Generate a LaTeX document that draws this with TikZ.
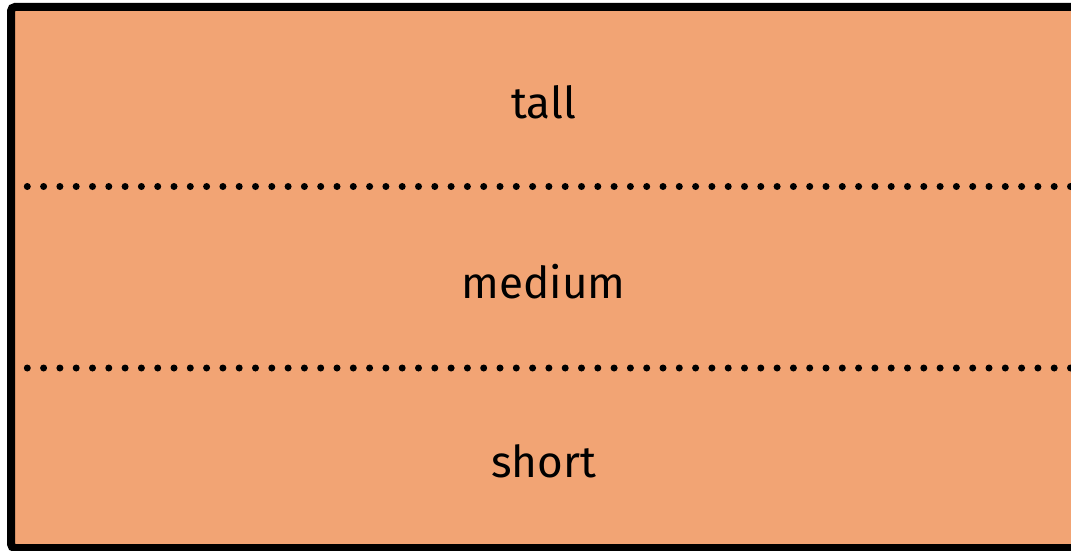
\documentclass[tikz,border=0pt]{standalone}
\usepackage{fontspec}
\setmainfont{Fira Sans}
\definecolor{bandfill}{RGB}{242,164,116}
\begin{document}
\begin{tikzpicture}[x=1pt,y=-1pt,
  band/.style={font=\fontsize{44}{52}\selectfont, anchor=base, inner sep=0pt},
  sep/.style={line width=7pt, line cap=round, dash pattern=on 0pt off 16.3pt}]
\useasboundingbox (0,0) rectangle (1071,551);
\draw[fill=bandfill, line width=8pt, rounded corners=4pt] (11,7) rectangle (1076,548);
\draw[sep] (11,186.5) -- (1090,186.5);
\draw[sep] (11,368) -- (1090,368);
\node[band] (tall) at (543.5,118) {tall};
\node[band] (medium) at (543.5,298) {medium};
\node[band] (short) at (543.5,477) {short};
\end{tikzpicture}
\end{document}
